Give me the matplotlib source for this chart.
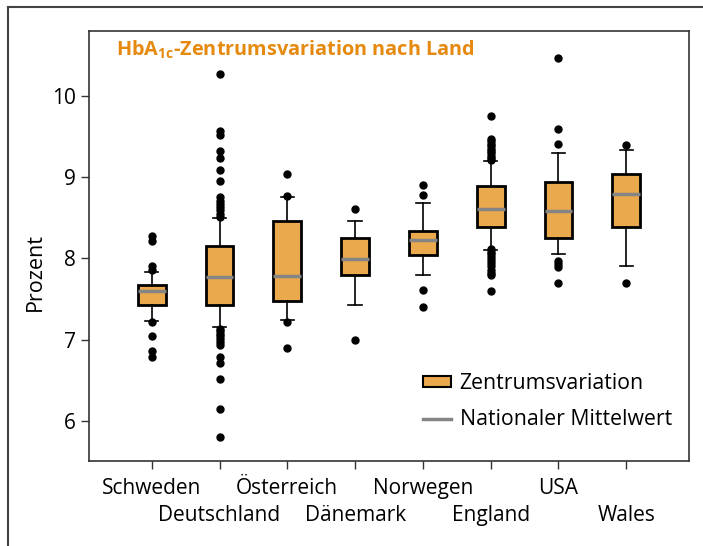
import matplotlib
matplotlib.use("Agg")
import matplotlib.pyplot as plt
from matplotlib.patches import Patch
from matplotlib.lines import Line2D

plt.rcParams['font.family'] = ['Open Sans', 'DejaVu Sans']
plt.rcParams['mathtext.fontset'] = 'custom'
plt.rcParams['mathtext.bf'] = 'Open Sans:bold'
plt.rcParams['mathtext.rm'] = 'Open Sans'

laender = ['Schweden', 'Deutschland', 'Österreich', 'Dänemark',
           'Norwegen', 'England', 'USA', 'Wales']
q1 = [7.42, 7.42, 7.475, 7.80, 8.045, 8.39, 8.245, 8.38]
med = [7.60, 7.775, 7.78, 7.99, 8.22, 8.61, 8.58, 8.79]
q3 = [7.675, 8.155, 8.46, 8.25, 8.34, 8.89, 8.94, 9.035]
whislo = [7.23, 7.155, 7.235, 7.42, 7.79, 8.107, 8.055, 7.90]
whishi = [7.83, 8.49, 8.76, 8.455, 8.675, 9.20, 9.29, 9.33]
ausreisser = [
    [8.28, 8.21, 7.91, 7.86, 7.21, 7.04, 6.86, 6.79],
    [10.27, 9.57, 9.52, 9.32, 9.23, 9.08, 8.95, 8.76, 8.71, 8.67, 8.63, 8.59,
     8.55, 8.51, 7.13, 7.10, 7.07, 7.04, 7.01, 6.97, 6.93, 6.79, 6.71, 6.51,
     6.15, 5.80],
    [9.04, 8.77, 7.21, 6.90],
    [8.61, 7.00],
    [8.90, 8.78, 7.61, 7.40],
    [9.75, 9.47, 9.44, 9.41, 9.38, 9.35, 9.32, 9.29, 9.26, 9.23, 9.21,
     8.11, 8.08, 8.05, 8.02, 7.98, 7.94, 7.90, 7.86, 7.82, 7.79, 7.60],
    [10.46, 9.59, 9.40, 7.97, 7.93, 7.89, 7.70],
    [9.395, 7.70],
]

orange = '#EBA94E'
grau = '#858585'

stats = []
for i in range(len(laender)):
    stats.append({'med': med[i], 'q1': q1[i], 'q3': q3[i],
                  'whislo': whislo[i], 'whishi': whishi[i],
                  'fliers': ausreisser[i], 'label': laender[i]})

fig = plt.figure(figsize=(7.03, 5.46), dpi=100)
ax = fig.add_axes([0.1266, 0.1557, 0.853, 0.788])

ax.bxp(stats, positions=range(1, 9), widths=0.41, patch_artist=True,
       boxprops=dict(facecolor=orange, edgecolor='black', linewidth=2),
       medianprops=dict(color=grau, linewidth=2.5),
       whiskerprops=dict(color='black', linewidth=1.2),
       capprops=dict(color='black', linewidth=1.2),
       flierprops=dict(marker='o', markerfacecolor='black',
                       markeredgecolor='black', markersize=5),
       capwidths=0.2)

ax.set_xlim(0.075, 8.92)
ax.set_ylim(5.505, 10.8)
ax.set_yticks([6, 7, 8, 9, 10])
ax.set_xticks(range(1, 9))
ax.set_xticklabels(laender, fontsize=15)
ax.tick_params(axis='both', labelsize=15, length=6, width=1, color='#333333')
# zweizeilige Beschriftung: jede zweite Beschriftung weiter nach unten
for i, t in enumerate(ax.xaxis.get_major_ticks()):
    t.set_pad(6 if i % 2 == 0 else 26)
ax.set_ylabel('Prozent', fontsize=15.5)
ax.yaxis.set_label_coords(-0.072, 0.44)
for s in ax.spines.values():
    s.set_linewidth(1.2)
    s.set_color('#333333')

ax.text(0.045, 0.982, r'HbA$_\mathbf{1c}$-Zentrumsvariation nach Land',
        transform=ax.transAxes, color='#E6890F', fontsize=14.3,
        fontweight='bold', va='top', ha='left')

handles = [Patch(facecolor=orange, edgecolor='black', linewidth=1.5),
           Line2D([0], [0], color=grau, linewidth=2.5)]
ax.legend(handles, ['Zentrumsvariation', 'Nationaler Mittelwert'],
          loc='lower left', bbox_to_anchor=(0.54, 0.047), frameon=False,
          fontsize=15.3, handlelength=1.3, handleheight=0.45, borderpad=0,
          labelspacing=0.72, handletextpad=0.4)

# äußerer Rahmen (nur oben und links sichtbar)
fig.add_artist(Line2D([0.0107, 1.0], [0.987, 0.987], color='#444444',
                      linewidth=1.5, transform=fig.transFigure))
fig.add_artist(Line2D([0.0107, 0.0107], [0.0, 0.987], color='#444444',
                      linewidth=1.5, transform=fig.transFigure))

fig.savefig('out.png', dpi=100)
